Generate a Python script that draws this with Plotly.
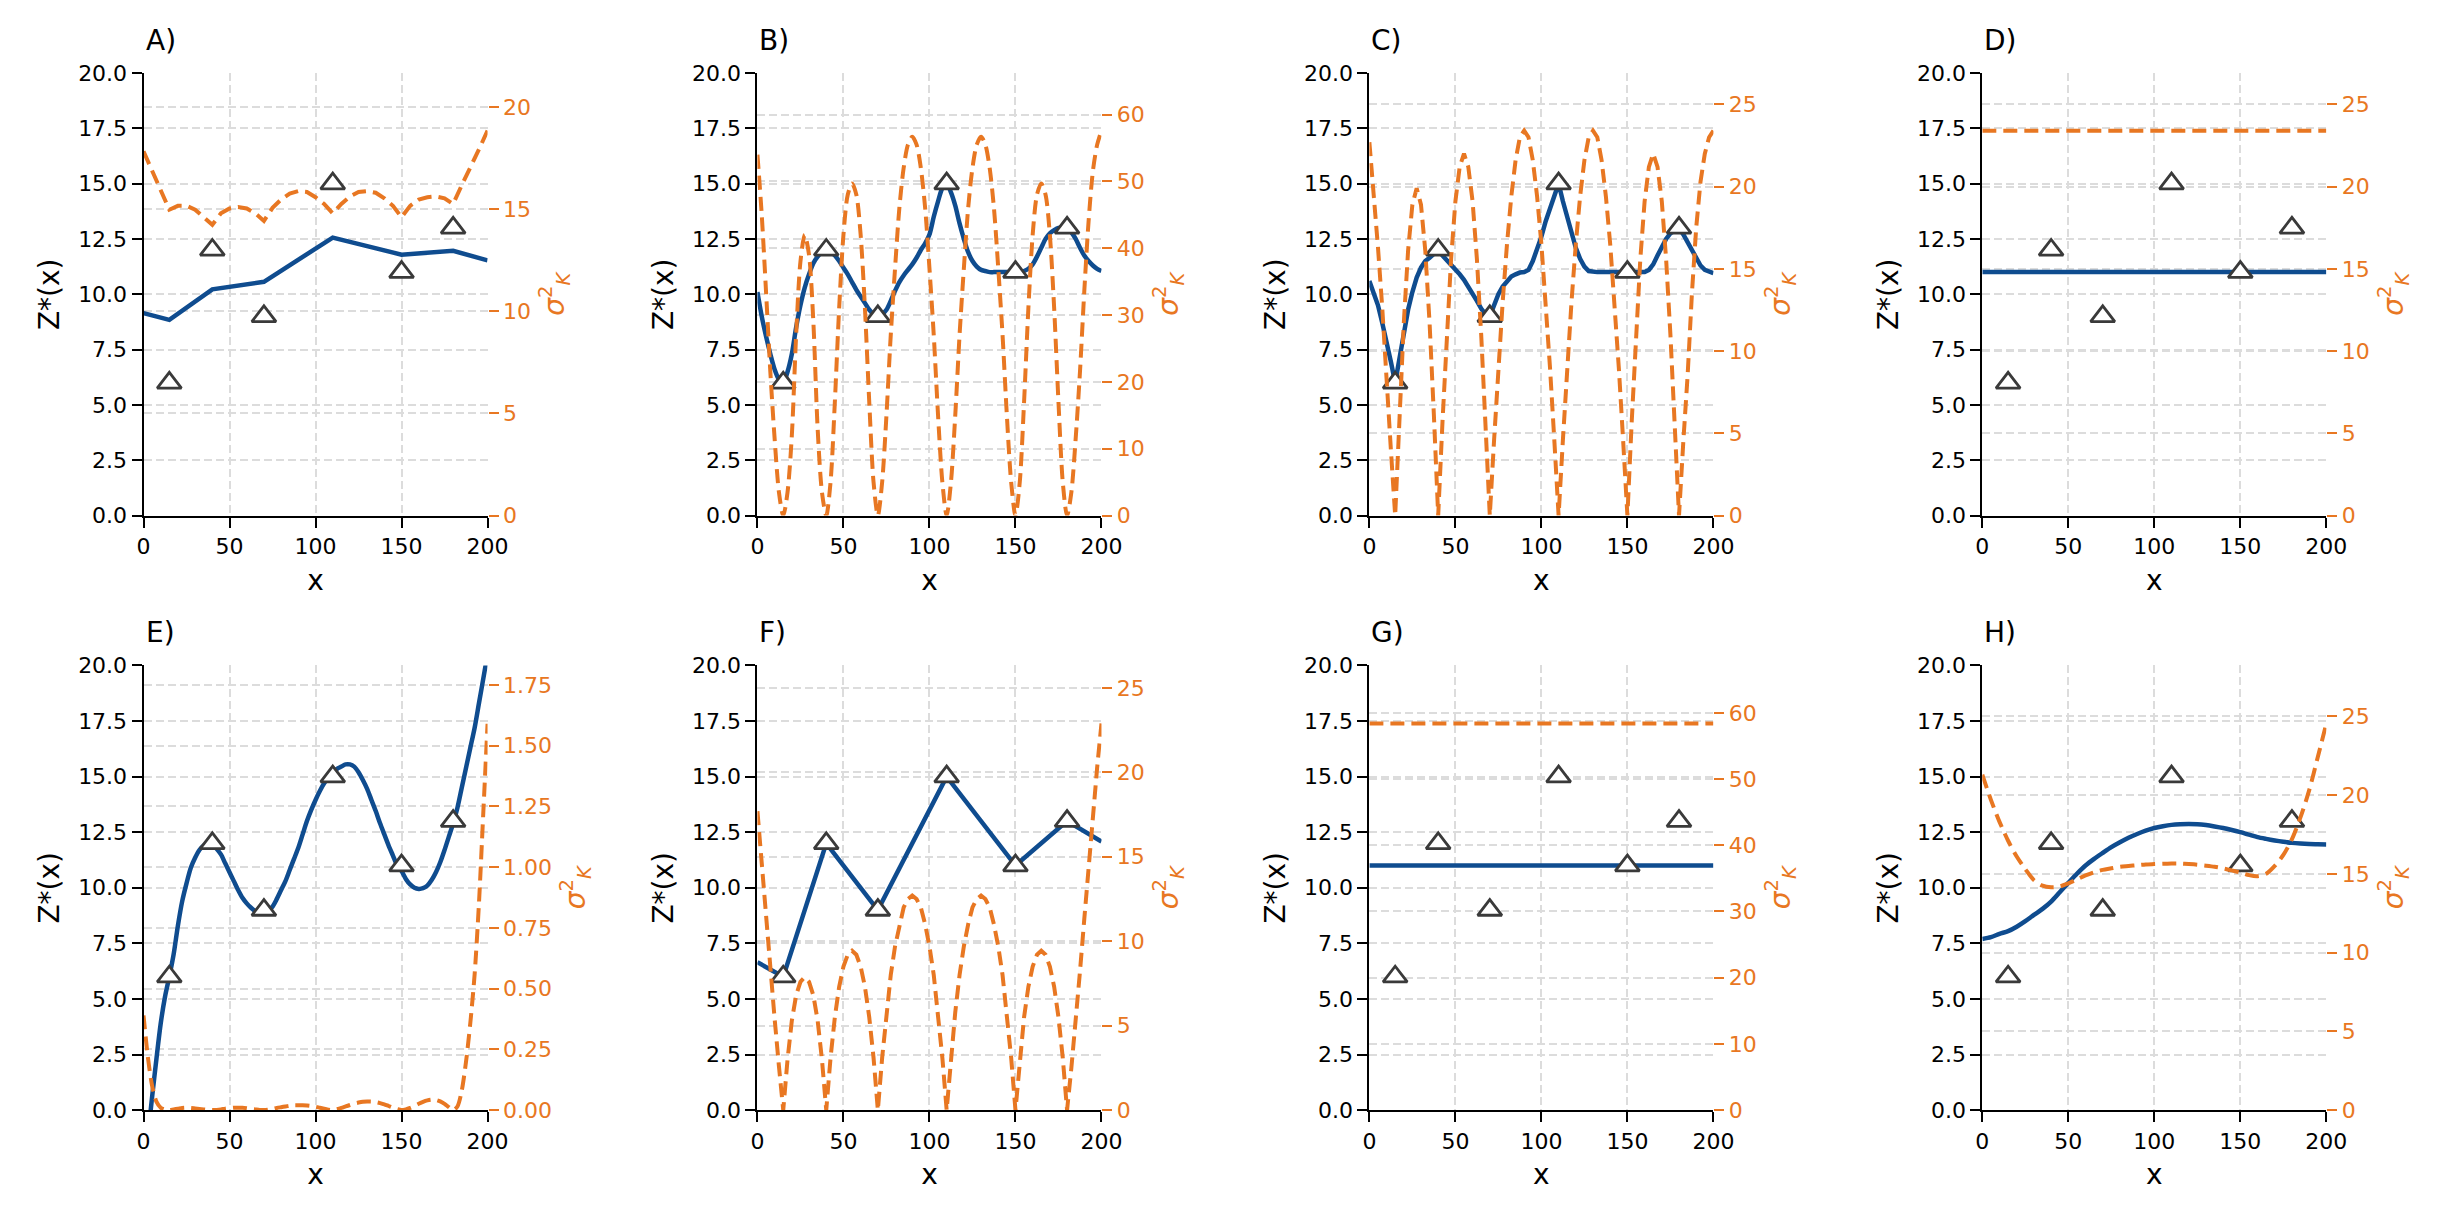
import plotly.graph_objects as go

# ---------------- data ----------------
X_PTS = [15, 40, 70, 110, 150, 180]
Z_PTS = [6, 12, 9, 15, 11, 13]

X_FINE = [0, 2.5, 5, 7.5, 10, 12.5, 15, 17.5, 20, 22.5, 25, 27.5, 30, 32.5, 35, 37.5,
          40, 42.5, 45, 47.5, 50, 52.5, 55, 57.5, 60, 62.5, 65, 67.5, 70, 72.5, 75, 77.5,
          80, 82.5, 85, 87.5, 90, 92.5, 95, 97.5, 100, 102.5, 105, 107.5, 110, 112.5, 115,
          117.5, 120, 122.5, 125, 127.5, 130, 132.5, 135, 137.5, 140, 142.5, 145, 147.5,
          150, 152.5, 155, 157.5, 160, 162.5, 165, 167.5, 170, 172.5, 175, 177.5, 180,
          182.5, 185, 187.5, 190, 192.5, 195, 197.5, 200]
X_COARSE = [0, 5, 10, 15, 20, 25, 30, 35, 40, 45, 50, 55, 60, 65, 70, 75, 80, 85, 90, 95,
            100, 105, 110, 115, 120, 125, 130, 135, 140, 145, 150, 155, 160, 165, 170, 175,
            180, 185, 190, 195, 200]
X_KNOTS = [0, 15, 40, 70, 110, 150, 180, 200]
X_END = [0, 200]

# A)
A_Z = [9.15, 8.84, 10.22, 10.56, 12.56, 11.79, 11.96, 11.53]
A_VAR = [17.84, 16.9, 15.9, 14.98, 15.17, 15.17, 14.98, 14.61, 14.24, 14.80, 15.04, 15.11,
         15.04, 14.80, 14.43, 15.07, 15.48, 15.77, 15.89, 15.85, 15.59, 15.26, 14.80, 15.26,
         15.63, 15.85, 15.89, 15.81, 15.54, 15.17, 14.61, 15.17, 15.48, 15.59, 15.63, 15.54,
         15.26, 16.18, 17.01, 17.93, 18.86]
# B)
B_Z = [10.1, 9.0, 8.1, 7.3, 6.6, 6.15, 6.0, 6.5, 7.3, 8.5, 9.5, 10.3, 10.9, 11.4, 11.7, 11.9,
       12.0, 11.9, 11.75, 11.5, 11.2, 10.9, 10.55, 10.2, 9.9, 9.6, 9.3, 9.1, 9.0, 9.1, 9.3, 9.7,
       10.15, 10.55, 10.85, 11.1, 11.35, 11.65, 12.0, 12.3, 12.7, 13.5, 14.2, 14.8, 15.0, 14.6,
       14.0, 13.2, 12.5, 11.9, 11.5, 11.25, 11.1, 11.05, 11.0, 11.0, 11.0, 11.0, 11.0, 11.0,
       11.0, 11.0, 11.05, 11.15, 11.35, 11.7, 12.1, 12.5, 12.75, 12.9, 13.0, 13.0, 13.0,
       12.8, 12.5, 12.1, 11.75, 11.5, 11.3, 11.15, 11.05]
B_VAR = [54, 45, 33.5, 21.5, 11.5, 3.5, 0,
         3.5, 12, 27, 38, 42, 39, 29, 13, 3.5, 0,
         5, 17, 31, 42, 48, 49.7, 48, 42, 31, 17, 5, 0,
         5, 15, 27, 37, 46, 52, 55.5, 56.7, 55.5, 52, 46, 37, 27, 15, 5, 0,
         5, 15, 27, 37, 46, 52, 55.5, 56.7, 55.5, 52, 46, 37, 27, 15, 5, 0,
         5, 17, 31, 42, 48, 49.7, 48, 42, 31, 17, 5, 0,
         3.5, 11.5, 21.5, 33.5, 44, 51.5, 55.5, 57.6]
# C)
C_Z = [10.6, 10.1, 9.5, 8.7, 7.9, 6.95, 6.0, 7.1, 8.3, 9.3, 10.1, 10.75, 11.2, 11.5, 11.65,
       11.8, 12.0, 11.75, 11.55, 11.35, 11.15, 10.9, 10.65, 10.35, 10.0, 9.7, 9.35, 9.1, 9.0,
       9.5, 10.0, 10.35, 10.6, 10.8, 10.9, 10.98, 11.0, 11.1, 11.5, 12.0, 12.6, 13.3, 13.9,
       14.5, 15.0, 14.2, 13.5, 12.7, 12.1, 11.6, 11.25, 11.05, 11.0, 11.0, 11.0, 11.0, 11.0,
       11.0, 11.0, 11.0, 11.0, 11.0, 11.0, 11.0, 11.0, 11.1, 11.35, 11.75, 12.15, 12.5,
       12.75, 12.9, 13.0, 12.7, 12.35, 11.95, 11.6, 11.3, 11.1, 11.0, 10.95]
C_VAR = [22.7, 19.8, 16.3, 12.6, 8.0, 4.0, 0,
         6.1, 11.7, 16.1, 18.9, 19.9, 18.9, 16.1, 11.7, 6.1, 0,
         5.7, 11.0, 15.6, 19.1, 21.2, 22.0, 21.2, 19.1, 15.6, 11.0, 5.7, 0,
         4.6, 9.0, 13.0, 16.5, 19.4, 21.6, 23.0, 23.4, 23.0, 21.6, 19.4, 16.5, 13.0, 9.0, 4.6, 0,
         4.6, 9.0, 13.0, 16.5, 19.4, 21.6, 23.0, 23.4, 23.0, 21.6, 19.4, 16.5, 13.0, 9.0, 4.6, 0,
         5.7, 11.0, 15.6, 19.1, 21.2, 22.0, 21.2, 19.1, 15.6, 11.0, 5.7, 0,
         4.5, 8.5, 13.5, 17.5, 20.3, 22.0, 23.0, 23.4]
# D)
D_Z = [11.0, 11.0]
D_VAR = [23.4, 23.4]
# E)
E_Z = [-2.8, -1.2, 0.6, 2.3, 3.9, 5.1, 6.0, 7.0, 8.3, 9.4, 10.2, 10.9, 11.35, 11.7, 11.9, 12.0,
       11.95, 11.75, 11.5, 11.1, 10.7, 10.3, 9.9, 9.55, 9.3, 9.1, 8.95, 8.87, 8.85, 8.95, 9.15,
       9.5, 9.9, 10.3, 10.8, 11.3, 11.8, 12.4, 13.0, 13.5, 13.95, 14.35, 14.7, 14.95, 15.15,
       15.35, 15.45, 15.55, 15.55, 15.45, 15.2, 14.85, 14.45, 13.95, 13.45, 12.9, 12.4, 11.9,
       11.45, 11.0, 10.75, 10.4, 10.15, 10.0, 9.95, 9.98, 10.1, 10.35, 10.7, 11.15, 11.7, 12.3,
       12.9, 13.6, 14.5, 15.4, 16.3, 17.2, 18.3, 19.4, 20.5]
E_VAR = [0.39, 0.22, 0.1, 0.035, 0.01, 0.002, 0, 0.003, 0.006, 0.009, 0.01, 0.009, 0.007,
         0.005, 0.003, 0.001, 0, 0.001, 0.003, 0.006, 0.008, 0.01, 0.01, 0.01, 0.008, 0.005,
         0.003, 0.001, 0, 0.002, 0.005, 0.009, 0.012, 0.015, 0.018, 0.02, 0.02, 0.02, 0.019,
         0.017, 0.014, 0.01, 0.006, 0.002, 0, 0.004, 0.009, 0.015, 0.021, 0.027, 0.031, 0.034,
         0.035, 0.035, 0.033, 0.029, 0.024, 0.017, 0.01, 0.004, 0, 0.003, 0.009, 0.017, 0.026,
         0.034, 0.04, 0.043, 0.042, 0.036, 0.026, 0.012, 0, 0.015, 0.08, 0.2, 0.36, 0.56, 0.85,
         1.22, 1.59]
# F)
F_Z = [6.65, 6.0, 12.0, 9.0, 15.0, 11.0, 13.0, 12.08]
F_VAR = [17.7, 14.5, 11.4, 8.3, 5.4, 2.6, 0,
         3.0, 5.3, 6.8, 7.6, 7.87, 7.6, 6.8, 5.3, 3.0, 0,
         3.1, 5.5, 7.3, 8.5, 9.2, 9.44, 9.2, 8.5, 7.3, 5.5, 3.1, 0,
         3.1, 5.8, 8.0, 9.7, 11.0, 12.0, 12.5, 12.7, 12.5, 12.0, 11.0, 9.7, 8.0, 5.8, 3.1, 0,
         3.1, 5.8, 8.0, 9.7, 11.0, 12.0, 12.5, 12.7, 12.5, 12.0, 11.0, 9.7, 8.0, 5.8, 3.1, 0,
         3.1, 5.5, 7.3, 8.5, 9.2, 9.44, 9.2, 8.5, 7.3, 5.5, 3.1, 0,
         2.5, 5.2, 8.2, 11.3, 14.5, 17.7, 20.3, 22.9]
# G)
G_Z = [11.0, 11.0]
G_VAR = [58.4, 58.4]
# H)
H_Z = [7.7, 7.78, 7.93, 8.05, 8.25, 8.5, 8.78, 9.05, 9.38, 9.8, 10.22, 10.63, 11.0, 11.3,
       11.57, 11.83, 12.05, 12.25, 12.42, 12.57, 12.69, 12.77, 12.83, 12.86, 12.87, 12.86,
       12.82, 12.76, 12.69, 12.6, 12.5, 12.39, 12.28, 12.2, 12.13, 12.07, 12.02, 11.99, 11.97,
       11.96, 11.95]
H_VAR = [21.3, 19.7, 18.3, 17.1, 16.1, 15.3, 14.6, 14.25, 14.15, 14.2, 14.4, 14.65, 14.9,
         15.1, 15.25, 15.35, 15.45, 15.5, 15.55, 15.6, 15.62, 15.64, 15.65, 15.65, 15.62,
         15.58, 15.52, 15.45, 15.35, 15.22, 15.08, 14.92, 14.85, 15.0, 15.5, 16.2, 17.2, 18.6,
         20.3, 22.4, 24.55]

LABELS = ["A)", "B)", "C)", "D)", "E)", "F)", "G)", "H)"]
Z_SERIES = [(X_KNOTS, A_Z), (X_FINE, B_Z), (X_FINE, C_Z), (X_END, D_Z),
            (X_FINE, E_Z), (X_KNOTS, F_Z), (X_END, G_Z), (X_COARSE, H_Z)]
VAR_SERIES = [(X_COARSE, A_VAR), (X_FINE, B_VAR), (X_FINE, C_VAR), (X_END, D_VAR),
              (X_FINE, E_VAR), (X_FINE, F_VAR), (X_END, G_VAR), (X_COARSE, H_VAR)]
Z_SHAPE = ["linear", "spline", "linear", "linear", "spline", "linear", "linear", "spline"]
VAR_SHAPE = ["linear", "spline", "linear", "linear", "spline", "linear", "linear", "spline"]
VAR_MAX = [21.68, 66.24, 26.91, 26.91, 1.83, 26.33, 67.16, 28.23]
VAR_DTICK = [5, 10, 5, 5, 0.25, 5, 10, 5]
VAR_FMT = ["d", "d", "d", "d", ".2f", "d", "d", "d"]

# ---------------- style / layout ----------------
W, H = 2456, 1216
BLUE = "#0f4c8f"
ORANGE = "#e87722"
EDGE = "#3a3a3a"
GRID = "#dcdcdc"
FONT = "DejaVu Sans"

COL_PX = [(130, 478), (751, 1099), (1370, 1718), (1990, 2338)]
ROW_PX = [(54, 506), (659, 1113)]

fig = go.Figure()
layout = dict(
    width=W, height=H, margin=dict(l=0, r=0, t=0, b=0),
    paper_bgcolor="white", plot_bgcolor="white", showlegend=False,
    font=dict(family=FONT, size=22, color="black"),
)
annotations = []

for i in range(8):
    col, row = i % 4, i // 4
    xd = [COL_PX[col][0] / W, COL_PX[col][1] / W]
    yd = [1 - ROW_PX[row][1] / H, 1 - ROW_PX[row][0] / H]
    xname = "x" if i == 0 else f"x{i+1}"
    y1 = f"y{2*i+1}" if i > 0 else "y"
    y2 = f"y{2*i+2}"
    xkey = "xaxis" if i == 0 else f"xaxis{i+1}"
    y1key = "yaxis" if i == 0 else f"yaxis{2*i+1}"
    y2key = f"yaxis{2*i+2}"

    zx, zy = Z_SERIES[i]
    fig.add_trace(go.Scatter(x=zx, y=zy, mode="lines", xaxis=xname, yaxis=y1,
                             line=dict(color=BLUE, width=4.5, shape=Z_SHAPE[i], smoothing=0.8)))
    fig.add_trace(go.Scatter(x=X_PTS, y=Z_PTS, mode="markers", xaxis=xname, yaxis=y1,
                             marker=dict(symbol="triangle-up", size=21, color="white",
                                         line=dict(color=EDGE, width=2.8))))
    vx, vy = VAR_SERIES[i]
    fig.add_trace(go.Scatter(x=vx, y=vy, mode="lines", xaxis=xname, yaxis=y2,
                             line=dict(color=ORANGE, width=4, dash="14px,7px",
                                       shape=VAR_SHAPE[i], smoothing=0.8)))

    common = dict(ticks="outside", ticklen=10, tickwidth=2, zeroline=False,
                  showgrid=True, gridcolor=GRID, gridwidth=1.6, griddash="8px,4px",
                  tickfont=dict(size=22, family=FONT))
    layout[xkey] = dict(domain=xd, anchor=y1, range=[0, 200], tick0=0, dtick=50,
                        showline=True, linecolor="black", linewidth=2, tickcolor="black",
                        title=dict(text="x", font=dict(size=28), standoff=12), **common)
    layout[y1key] = dict(domain=yd, anchor=xname, range=[0, 20], tick0=0, dtick=2.5,
                         tickformat=".1f", showline=True, linecolor="black", linewidth=2,
                         tickcolor="black",
                         title=dict(text="Z*(x)", font=dict(size=28), standoff=10), **common)
    c2 = dict(common)
    c2["tickfont"] = dict(size=22, family=FONT, color=ORANGE)
    layout[y2key] = dict(overlaying=y1, side="right", anchor=xname, range=[0, VAR_MAX[i]],
                         tick0=0, dtick=VAR_DTICK[i], tickformat=VAR_FMT[i], showline=False,
                         tickcolor=ORANGE,
                         title=dict(text="<i>σ</i><sup>2</sup><sub><i>K</i></sub>",
                                    font=dict(size=28, color=ORANGE), standoff=14), **c2)
    annotations.append(dict(text=LABELS[i], x=xd[0], y=yd[1], xref="paper", yref="paper",
                            xanchor="left", yanchor="bottom", yshift=14, showarrow=False,
                            font=dict(size=28, family=FONT, color="black")))

layout["annotations"] = annotations
fig.update_layout(**layout)
fig.write_html("out.html")
